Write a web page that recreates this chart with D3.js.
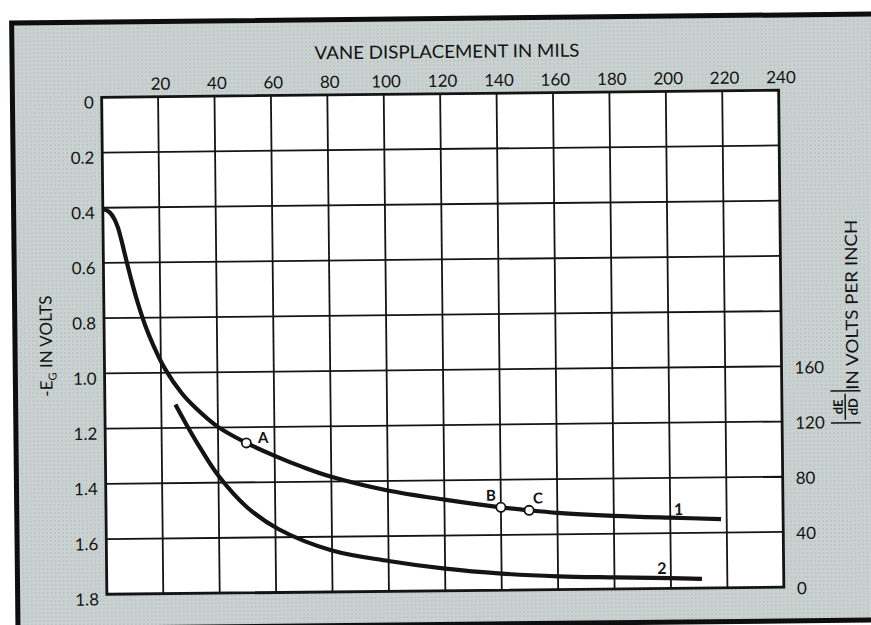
<!DOCTYPE html>
<html>
<head>
<meta charset="utf-8">
<script src="https://cdn.jsdelivr.net/npm/d3@7"></script>
<style>
  html, body { margin: 0; padding: 0; background: #ffffff; }
  svg { display: block; }
</style>
</head>
<body>
<svg id="chart" width="871" height="625"></svg>
<script>
// Top axis: vane displacement in mils
const displacementTicks = [20, 40, 60, 80, 100, 120, 140, 160, 180, 200, 220, 240];
// Left axis: -E_G in volts (increasing downward)
const voltTicks = [0, 0.2, 0.4, 0.6, 0.8, 1.0, 1.2, 1.4, 1.6, 1.8];
// Right axis: |dE/dD| in volts per inch
const slopeTicks = [0, 40, 80, 120, 160];

// Curve 1: grid bias -E_G (volts) against vane displacement (mils)
const curve1Mils  = [0, 1, 2.5, 4, 5.2, 6.4, 7.7, 9.9, 12.1, 14.5, 17.4, 21.4, 27.3, 32, 40, 50, 60, 70, 80, 100, 120, 140, 150, 160, 180, 200, 218];
const curve1Volts = [0.405, 0.408, 0.418, 0.44, 0.47, 0.515, 0.572, 0.665, 0.748, 0.825, 0.9, 0.985, 1.075, 1.127, 1.198, 1.257, 1.305, 1.347, 1.383, 1.435, 1.47, 1.5, 1.512, 1.522, 1.535, 1.544, 1.551];

// Curve 2: sensitivity |dE/dD| (volts per inch) against vane displacement (mils)
const curve2Mils  = [25, 30, 34, 40, 50, 61, 80, 100, 120, 140, 160, 180, 200, 211];
const curve2Slope = [137, 118, 104, 85, 62, 46, 30, 22, 16, 12, 9.6, 8.4, 7.4, 6.6];

// Operating points marked on curve 1
const markerNames = ["A", "B", "C"];
const markerMils  = [50, 140, 150];
const markerVolts = [1.257, 1.5, 1.512];

// Curve identifiers
const curveLabels     = ["1", "2"];
const curveLabelMils  = [203, 196.8];
const curveLabelVolts = [1.514, 1.727];

const W = 871, H = 625;
const plot = { left: 104.25, right: 781.25, top: 93.75, bottom: 590.75 };
const FONT = "Lato, 'Open Sans', 'DejaVu Sans', sans-serif";
const INK = "#141414";

const svg = d3.select("#chart");
svg.append("rect").attr("width", W).attr("height", H).attr("fill", "#ffffff");

const defs = svg.append("defs");
const pat = defs.append("pattern")
  .attr("id", "halftone")
  .attr("patternUnits", "userSpaceOnUse")
  .attr("width", 4).attr("height", 4);
pat.append("rect").attr("width", 4).attr("height", 4).attr("fill", "#cbd4d2");
pat.append("circle").attr("cx", 1).attr("cy", 1).attr("r", 0.8).attr("fill", "#a7b2af");
pat.append("circle").attr("cx", 3).attr("cy", 3).attr("r", 0.5).attr("fill", "#bac4c1");

// The whole card sits slightly tilted
const card = svg.append("g").attr("transform", "rotate(-0.6, 442.75, 342.25)");

// Card background and its dark frame
card.append("rect")
  .attr("x", 15).attr("y", 18.5)
  .attr("width", 900).attr("height", 606)
  .attr("fill", "url(#halftone)")
  .attr("stroke", "#0e0e0e").attr("stroke-width", 5);

// Scales
const x = d3.scaleLinear().domain([0, 240]).range([plot.left, plot.right]);
const y = d3.scaleLinear().domain([0, 1.8]).range([plot.top, plot.bottom]);
const yR = d3.scaleLinear().domain([0, 160]).range([plot.bottom, y(1.0)]);

// Plot area
card.append("rect")
  .attr("x", plot.left).attr("y", plot.top)
  .attr("width", plot.right - plot.left).attr("height", plot.bottom - plot.top)
  .attr("fill", "#ffffff");

// Grid
const grid = card.append("g").attr("stroke", INK).attr("stroke-width", 1.8);
grid.selectAll("line.v")
  .data(displacementTicks.filter(d => d < 240))
  .join("line").attr("class", "v")
  .attr("x1", d => x(d)).attr("x2", d => x(d))
  .attr("y1", plot.top).attr("y2", plot.bottom);
grid.selectAll("line.h")
  .data(voltTicks.filter(d => d > 0 && d < 1.8))
  .join("line").attr("class", "h")
  .attr("x1", plot.left).attr("x2", plot.right)
  .attr("y1", d => y(d)).attr("y2", d => y(d));

// Plot border
card.append("rect")
  .attr("x", plot.left).attr("y", plot.top)
  .attr("width", plot.right - plot.left).attr("height", plot.bottom - plot.top)
  .attr("fill", "none").attr("stroke", INK).attr("stroke-width", 2.8);

// Axes (labels only, the grid carries the lines)
function styleAxis(g) {
  g.select(".domain").remove();
  g.selectAll(".tick line").remove();
  g.selectAll(".tick text")
    .attr("fill", INK)
    .attr("font-family", FONT)
    .attr("font-size", 17);
}

card.append("g")
  .attr("transform", `translate(0,${plot.top - 3})`)
  .call(d3.axisTop(x).tickValues(displacementTicks).tickSize(0).tickPadding(4).tickFormat(d3.format("d")))
  .call(styleAxis)
  .selectAll(".tick text").attr("dx", 2);

card.append("g")
  .attr("transform", `translate(${plot.left - 1},0)`)
  .call(d3.axisLeft(y).tickValues(voltTicks).tickSize(0).tickPadding(7)
    .tickFormat(d => d === 0 ? "0" : d3.format(".1f")(d)))
  .call(styleAxis)
  .selectAll(".tick text").attr("dy", "0.62em");

card.append("g")
  .attr("transform", `translate(${plot.right + 13},0)`)
  .call(d3.axisRight(yR).tickValues(slopeTicks).tickSize(0).tickPadding(0).tickFormat(d3.format("d")))
  .call(styleAxis)
  .selectAll(".tick text").attr("dy", "0.4em");

// Axis titles
card.append("text")
  .attr("x", 450).attr("y", 58)
  .attr("text-anchor", "middle")
  .attr("font-family", FONT).attr("font-size", 18)
  .attr("textLength", 265).attr("lengthAdjust", "spacingAndGlyphs")
  .attr("fill", INK)
  .text("VANE DISPLACEMENT IN MILS");

const leftTitle = card.append("text")
  .attr("transform", "translate(52,342) rotate(-90)")
  .attr("text-anchor", "middle")
  .attr("font-family", FONT).attr("font-size", 17)
  .attr("fill", INK);
leftTitle.append("tspan").text("-E");
leftTitle.append("tspan").attr("font-size", 11).attr("dy", 4).text("G");
leftTitle.append("tspan").attr("dy", -4).text(" IN VOLTS");

const rightTitle = card.append("g")
  .attr("transform", "translate(858,394) rotate(-90)")
  .attr("fill", INK).attr("font-family", FONT);
rightTitle.append("text")
  .attr("x", 0).attr("y", 0)
  .attr("font-size", 17)
  .attr("textLength", 170).attr("lengthAdjust", "spacingAndGlyphs")
  .text("IN VOLTS PER INCH");
rightTitle.append("text")
  .attr("x", -17).attr("y", -16)
  .attr("text-anchor", "middle").attr("font-size", 13).attr("font-weight", 700)
  .text("dE");
rightTitle.append("text")
  .attr("x", -17).attr("y", -1)
  .attr("text-anchor", "middle").attr("font-size", 13).attr("font-weight", 700)
  .text("dD");
rightTitle.append("line")
  .attr("x1", -30).attr("x2", -4).attr("y1", -13.5).attr("y2", -13.5)
  .attr("stroke", INK).attr("stroke-width", 1.5);
rightTitle.selectAll("line.bar")
  .data([-33, -1])
  .join("line").attr("class", "bar")
  .attr("x1", d => d).attr("x2", d => d).attr("y1", -28).attr("y2", 2)
  .attr("stroke", INK).attr("stroke-width", 1.5);

// Curves
const line1 = d3.line()
  .x((d, i) => x(curve1Mils[i]))
  .y(d => y(d))
  .curve(d3.curveCatmullRom.alpha(0.5));
card.append("path")
  .attr("d", line1(curve1Volts))
  .attr("fill", "none").attr("stroke", INK).attr("stroke-width", 4.2);

const line2 = d3.line()
  .x((d, i) => x(curve2Mils[i]))
  .y(d => yR(d))
  .curve(d3.curveCatmullRom.alpha(0.5));
card.append("path")
  .attr("d", line2(curve2Slope))
  .attr("fill", "none").attr("stroke", INK).attr("stroke-width", 4.2);

// Marked points A, B, C
const markerOffsets = [[17, -5], [-10, -12], [9, -12]];
const markers = card.append("g");
markers.selectAll("circle")
  .data(markerNames)
  .join("circle")
  .attr("cx", (d, i) => x(markerMils[i]))
  .attr("cy", (d, i) => y(markerVolts[i]))
  .attr("r", 4.6)
  .attr("fill", "#ffffff").attr("stroke", INK).attr("stroke-width", 1.8);
markers.selectAll("text")
  .data(markerNames)
  .join("text")
  .attr("x", (d, i) => x(markerMils[i]) + markerOffsets[i][0])
  .attr("y", (d, i) => y(markerVolts[i]) + markerOffsets[i][1])
  .attr("dy", "0.35em")
  .attr("text-anchor", "middle")
  .attr("font-family", FONT).attr("font-size", 15).attr("font-weight", 700)
  .attr("fill", INK)
  .text(d => d);

// Curve numbers
card.selectAll("text.curve-label")
  .data(curveLabels)
  .join("text").attr("class", "curve-label")
  .attr("x", (d, i) => x(curveLabelMils[i]))
  .attr("y", (d, i) => y(curveLabelVolts[i]))
  .attr("dy", "0.35em")
  .attr("text-anchor", "middle")
  .attr("font-family", FONT).attr("font-size", 16).attr("font-weight", 700)
  .attr("fill", INK)
  .text(d => d);
</script>
</body>
</html>
